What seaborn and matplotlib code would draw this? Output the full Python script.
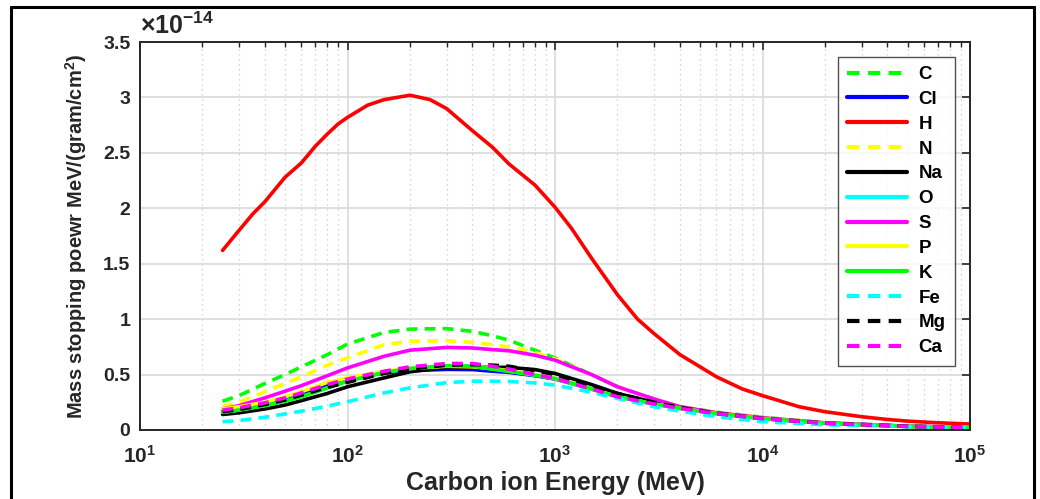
import numpy as np
import pandas as pd
import matplotlib
matplotlib.use("Agg")
import matplotlib.pyplot as plt
import seaborn as sns
from matplotlib.lines import Line2D
from matplotlib.ticker import LogLocator, FuncFormatter, FixedLocator, NullFormatter

# ---------------- data (stopping power in units of 1e-14 MeV/(gram/cm^2)) ----------------
E_H = [25, 30, 35, 40, 50, 60, 70, 80, 90, 100, 125, 150, 200, 250, 300, 400, 500, 600, 800,
       1000, 1200, 1500, 2000, 2500, 3000, 4000, 5000, 6000, 8000, 10000, 15000, 20000,
       30000, 40000, 50000, 70000, 100000]
H = [1.62, 1.80, 1.95, 2.06, 2.28, 2.41, 2.56, 2.67, 2.76, 2.82, 2.93, 2.98, 3.02, 2.98, 2.90,
     2.70, 2.55, 2.40, 2.21, 2.01, 1.82, 1.55, 1.22, 1.00, 0.87, 0.68, 0.57, 0.48, 0.37, 0.31,
     0.21, 0.165, 0.12, 0.095, 0.08, 0.065, 0.054]

E = [25, 30, 40, 50, 60, 80, 100, 150, 200, 300, 400, 500, 600, 800, 1000, 1500, 2000, 3000,
     4000, 6000, 10000, 20000, 50000, 100000]
C  = [0.26, 0.31, 0.42, 0.50, 0.57, 0.68, 0.775, 0.88, 0.91, 0.915, 0.89, 0.85, 0.81, 0.72, 0.65,
      0.50, 0.39, 0.28, 0.21, 0.16, 0.115, 0.065, 0.035, 0.025]
Cl = [0.175, 0.195, 0.24, 0.285, 0.33, 0.41, 0.455, 0.515, 0.535, 0.547, 0.545, 0.53, 0.52, 0.49,
      0.46, 0.37, 0.30, 0.235, 0.195, 0.148, 0.103, 0.061, 0.032, 0.022]
N  = [0.21, 0.25, 0.345, 0.42, 0.48, 0.585, 0.65, 0.77, 0.80, 0.805, 0.79, 0.77, 0.75, 0.70, 0.64,
      0.50, 0.39, 0.28, 0.21, 0.16, 0.115, 0.065, 0.035, 0.025]
Na = [0.14, 0.155, 0.19, 0.225, 0.265, 0.33, 0.39, 0.47, 0.525, 0.565, 0.565, 0.565, 0.565, 0.545,
      0.51, 0.41, 0.33, 0.25, 0.205, 0.152, 0.105, 0.062, 0.033, 0.022]
O  = [0.16, 0.18, 0.22, 0.26, 0.30, 0.38, 0.44, 0.52, 0.555, 0.58, 0.575, 0.55, 0.53, 0.495,
      0.465, 0.37, 0.30, 0.235, 0.195, 0.148, 0.103, 0.061, 0.032, 0.022]
S  = [0.19, 0.22, 0.29, 0.35, 0.40, 0.49, 0.56, 0.665, 0.72, 0.745, 0.74, 0.725, 0.715, 0.675,
      0.63, 0.50, 0.39, 0.28, 0.21, 0.155, 0.11, 0.065, 0.035, 0.025]
P  = [0.19, 0.21, 0.25, 0.30, 0.345, 0.43, 0.47, 0.53, 0.555, 0.575, 0.57, 0.555, 0.535, 0.50,
      0.465, 0.37, 0.30, 0.235, 0.195, 0.148, 0.103, 0.061, 0.032, 0.022]
K  = [0.16, 0.18, 0.22, 0.26, 0.30, 0.38, 0.44, 0.52, 0.555, 0.58, 0.575, 0.55, 0.53, 0.495,
      0.465, 0.37, 0.30, 0.235, 0.195, 0.148, 0.103, 0.061, 0.032, 0.022]
Fe = [0.075, 0.085, 0.115, 0.145, 0.17, 0.215, 0.255, 0.335, 0.38, 0.427, 0.44, 0.44, 0.437, 0.425,
      0.405, 0.34, 0.285, 0.21, 0.17, 0.12, 0.075, 0.047, 0.03, 0.02]
Mg = [0.165, 0.185, 0.23, 0.27, 0.315, 0.385, 0.43, 0.51, 0.55, 0.585, 0.59, 0.585, 0.575, 0.535,
      0.50, 0.40, 0.33, 0.25, 0.203, 0.15, 0.104, 0.062, 0.033, 0.022]
Ca = [0.18, 0.20, 0.245, 0.29, 0.335, 0.41, 0.46, 0.53, 0.57, 0.60, 0.60, 0.575, 0.55, 0.50,
      0.465, 0.37, 0.30, 0.235, 0.195, 0.148, 0.103, 0.061, 0.032, 0.022]

series = [
    ("C", E, C, (0, 1, 0), "--"),
    ("Cl", E, Cl, (0, 0, 1), "-"),
    ("H", E_H, H, (1, 0, 0), "-"),
    ("N", E, N, (1, 1, 0), "--"),
    ("Na", E, Na, (0, 0, 0), "-"),
    ("O", E, O, (0, 1, 1), "-"),
    ("S", E, S, (1, 0, 1), "-"),
    ("P", E, P, (1, 1, 0), "-"),
    ("K", E, K, (0, 1, 0), "-"),
    ("Fe", E, Fe, (0, 1, 1), "--"),
    ("Mg", E, Mg, (0, 0, 0), "--"),
    ("Ca", E, Ca, (1, 0, 1), "--"),
]
y_ticks = [0, 0.5, 1, 1.5, 2, 2.5, 3, 3.5]
x_ticks = [1e1, 1e2, 1e3, 1e4, 1e5]

# ---------------- style ----------------
sns.set_style("white")
plt.rcParams["font.family"] = ["Liberation Sans", "DejaVu Sans"]
plt.rcParams["font.weight"] = "bold"
plt.rcParams["mathtext.fontset"] = "custom"
plt.rcParams["mathtext.rm"] = "Liberation Sans:bold"
plt.rcParams["mathtext.bf"] = "Liberation Sans:bold"
plt.rcParams["mathtext.it"] = "Liberation Sans:bold"

dark = "#262626"
fig = plt.figure(figsize=(10.4, 4.99), dpi=100)
ax = fig.add_axes([140 / 1040, 1 - 430 / 499, 830 / 1040, 388 / 499])

for name, ex, vals, col, ls in series:
    df = pd.DataFrame({"E": ex, "S": vals})
    lstyle = (0, (3, 2)) if ls == "--" else "-"
    sns.lineplot(data=df, x="E", y="S", ax=ax, color=col, linestyle=lstyle,
                 linewidth=2.6, label=name, estimator=None, sort=True)

ax.set_xscale("log")
ax.set_xlim(10, 1e5)
ax.set_ylim(0, 3.5)
ax.xaxis.set_major_locator(FixedLocator(x_ticks))
ax.xaxis.set_minor_locator(LogLocator(base=10, subs=np.arange(2, 10)))
ax.xaxis.set_minor_formatter(NullFormatter())
ax.xaxis.set_major_formatter(FuncFormatter(lambda v, p: r"$\mathbf{10^{%d}}$" % int(round(np.log10(v)))))
ax.set_yticks(y_ticks)
ax.set_yticklabels(["%g" % t for t in y_ticks])

ax.grid(True, which="major", color="#d9d9d9", linewidth=1.2, linestyle="-")
ax.grid(True, which="minor", axis="x", color="#c8c8c8", linewidth=0.9, linestyle=(0, (1, 3)))
ax.set_axisbelow(True)

for sp in ax.spines.values():
    sp.set_visible(True)
    sp.set_color(dark)
    sp.set_linewidth(1.4)
ax.tick_params(axis="both", which="both", direction="in", top=True, right=True,
               colors=dark, labelcolor=dark)
ax.tick_params(axis="both", which="major", length=6, width=1.2, labelsize=14, pad=7)
ax.tick_params(axis="x", which="minor", length=3.5, width=1.0)
ax.tick_params(axis="x", which="major", pad=11, labelsize=15)
for lab in ax.get_xticklabels() + ax.get_yticklabels():
    lab.set_fontweight("bold")

ax.set_xlabel("Carbon ion Energy (MeV)", fontsize=18, fontweight="bold", color=dark, labelpad=3)
ax.set_ylabel(r"Mass stopping poewr MeV/(gram/cm$^{\mathbf{2}}$)", fontsize=14.5,
              fontweight="bold", color=dark, labelpad=10)
ax.text(0.0, 1.008, r"$\times\mathbf{10^{-14}}$", transform=ax.transAxes, fontsize=18,
        color=dark, ha="left", va="bottom")

leg = ax.legend(loc="upper left", bbox_to_anchor=(0.841, 0.962), fontsize=13.5,
                frameon=True, fancybox=False, edgecolor=dark, handlelength=3.2,
                labelspacing=0.41, borderpad=0.5, handletextpad=0.6, borderaxespad=0)
leg.get_frame().set_linewidth(1.0)
for t in leg.get_texts():
    t.set_fontweight("bold")
    t.set_color("black")
for h in leg.get_lines():
    h.set_linewidth(3.0)

# outer figure frame
for xs, ys in [([11 / 1040, 11 / 1040], [0, 1 - 7 / 499]),
               ([11 / 1040, 1034 / 1040], [1 - 7 / 499, 1 - 7 / 499]),
               ([1034 / 1040, 1034 / 1040], [0, 1 - 7 / 499])]:
    fig.add_artist(Line2D(xs, ys, transform=fig.transFigure, color="black", linewidth=2.2))

fig.savefig("out.png", dpi=100)
